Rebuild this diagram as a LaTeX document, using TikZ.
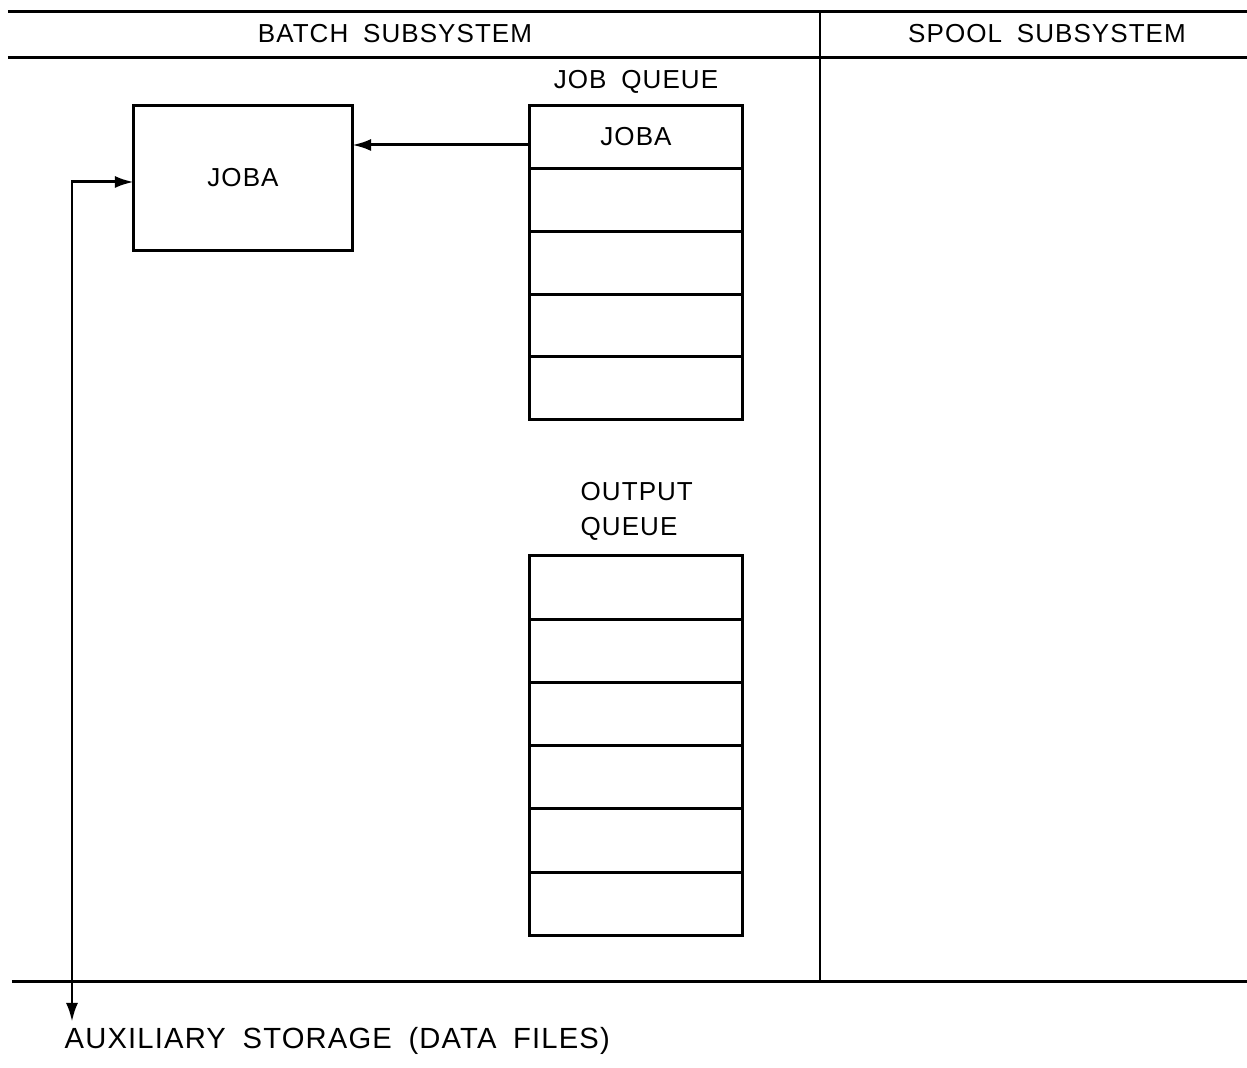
\documentclass[tikz,border=0pt]{standalone}
\usepackage{fontspec}
\setmainfont{Liberation Sans}[LetterSpace=4,WordSpace=1.8]
\usetikzlibrary{arrows.meta,positioning}

\begin{document}
\begin{tikzpicture}[x=0.01cm,y=-0.01cm,
  every node/.style={font=\fontsize{7.4}{10}\selectfont,inner sep=0pt},
  hat/.style={line width=0.85pt},
  kutu/.style={draw,line width=0.85pt,outer sep=0pt,minimum width=2.18cm,minimum height=1.44cm},
  hucre/.style={draw,line width=0.85pt,outer sep=0pt,minimum width=2.13cm,minimum height=0.628cm},
  ohucre/.style={draw,line width=0.85pt,outer sep=0pt,minimum width=2.13cm,minimum height=0.632cm},
  ok/.style={line width=0.85pt,-{Latex[length=1.9mm,width=1.2mm]}}]
\useasboundingbox (0,0) rectangle (1247,1068);
% cerceve
\draw[hat] (8,12) -- (1247,12);
\draw[hat] (8,58) -- (1247,58);
\draw[hat] (12,982) -- (1247,982);
\draw[hat] (820,12) -- (820,982);
\node (bs) at (395,34) {BATCH SUBSYSTEM};
\node (ss) at (1047,34) {SPOOL SUBSYSTEM};
% is kuyrugu
\node[kutu] (joba) at (243,178) {JOBA};
\node (jqb) at (636,82) {JOB QUEUE};
\node[hucre] (jq1) at (636,137) {JOBA};
\node[hucre,below=0pt of jq1] (jq2) {};
\node[hucre,below=0pt of jq2] (jq3) {};
\node[hucre,below=0pt of jq3] (jq4) {};
\node[hucre,below=0pt of jq4] (jq5) {};
% cikti kuyrugu
\node[align=left,anchor=west] (oqb) at (580,511) {OUTPUT\\QUEUE};
\node[ohucre] (oq1) at (636,587.6) {};
\node[ohucre,below=0pt of oq1] (oq2) {};
\node[ohucre,below=0pt of oq2] (oq3) {};
\node[ohucre,below=0pt of oq3] (oq4) {};
\node[ohucre,below=0pt of oq4] (oq5) {};
\node[ohucre,below=0pt of oq5] (oq6) {};
% baglantilar
\coordinate (alt) at (72,1022);
\node[anchor=west,font=\fontsize{8.3}{10}\selectfont] (aux) at (64,1041) {AUXILIARY STORAGE (DATA FILES)};
\draw[ok] ([yshift=-0.08cm]jq1.west) -- ([yshift=-0.08cm]joba.east |- jq1.west);
\draw[ok,{Latex[length=1.9mm,width=1.2mm]}-{Latex[length=1.9mm,width=1.2mm]}] (alt) |- ([yshift=-0.04cm]joba.west);
\end{tikzpicture}
\end{document}
